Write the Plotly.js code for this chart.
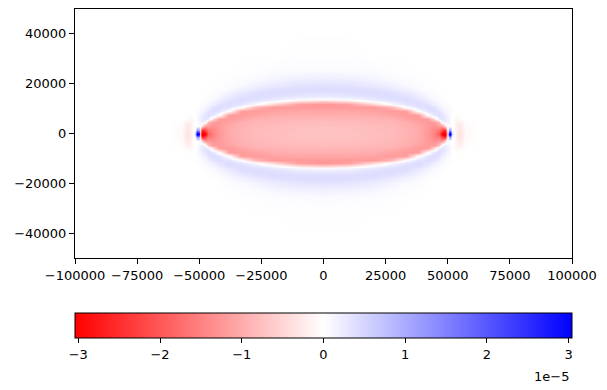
<!DOCTYPE html>
<html><head><meta charset="utf-8">
<script src="https://cdn.plot.ly/plotly-3.0.1.min.js"></script>
<style>html,body{margin:0;padding:0;background:#fff}#chart{width:607px;height:390px}</style>
</head><body><div id="chart"></div>
<script>
// Quadrant grid (x >= 0, y >= 0); field is mirrored to the other quadrants.
const xQuarter = [0, 10000, 20000, 27000, 33000, 38000, 42000, 44500, 46500, 47800, 48800, 49600, 50300, 51000, 51800, 52600, 53500, 54800, 57000, 62000, 100000];
const yQuarter = [0, 1500, 3000, 4500, 6000, 7500, 9000, 10500, 12000, 13000, 14000, 15000, 16500, 18000, 20000, 22500, 26000, 32000, 50000];
// values in units of 1e-5, one row per yQuarter entry, one column per xQuarter entry
const zQuarter = [
 [-0.72,-0.73,-0.78,-0.82,-0.90,-1.00,-1.25,-1.50,-1.90,-3.20,-3.60,-1.00, 3.00, 3.80, 0.50, 0.00,-0.20,-0.35,-0.08,0,0],
 [-0.73,-0.74,-0.79,-0.83,-0.90,-1.00,-1.22,-1.45,-1.60,-2.20,-2.50,-0.50, 1.00, 1.20, 0.05,-0.03,-0.20,-0.33,-0.08,0,0],
 [-0.76,-0.77,-0.81,-0.85,-0.92,-1.02,-1.18,-1.30,-1.20,-1.20,-0.50, 0.05, 0.05, 0.00,-0.02,-0.05,-0.18,-0.28,-0.06,0,0],
 [-0.80,-0.81,-0.85,-0.88,-0.95,-1.12,-1.20,-1.20,-0.80, 0.10, 0.20, 0.15, 0.10, 0.03, 0.00,-0.05,-0.15,-0.20,-0.04,0,0],
 [-0.86,-0.87,-0.90,-0.93,-1.08,-1.20,-1.20,-0.45, 0.26, 0.35, 0.28, 0.20, 0.14, 0.06, 0.01,-0.06,-0.10,-0.06,-0.01,0,0],
 [-0.95,-0.95,-0.98,-1.08,-1.20,-1.20,-0.02, 0.30, 0.40, 0.30, 0.22, 0.15, 0.12, 0.06, 0.02, 0.00,-0.02,-0.02,0,0,0],
 [-1.05,-1.05,-1.10,-1.20,-1.15, 0.00, 0.34, 0.42, 0.32, 0.20, 0.13, 0.09, 0.08, 0.04, 0.02,0,0,0,0,0,0],
 [-1.20,-1.20,-1.22,-0.90, 0.03, 0.33, 0.42, 0.33, 0.20, 0.11, 0.07, 0.05, 0.05, 0.02, 0.01,0,0,0,0,0,0],
 [-1.25,-1.15,-0.50, 0.09, 0.32, 0.42, 0.32, 0.20, 0.11, 0.06, 0.04, 0.03, 0.02, 0.01,0,0,0,0,0,0,0],
 [-0.60,-0.38, 0.08, 0.28, 0.40, 0.38, 0.24, 0.13, 0.07, 0.04, 0.03, 0.015,0.01,0,0,0,0,0,0,0,0],
 [ 0.05, 0.10, 0.28, 0.38, 0.41, 0.31, 0.16, 0.08, 0.04, 0.025,0.02, 0.01, 0,0,0,0,0,0,0,0,0],
 [ 0.25, 0.28, 0.37, 0.41, 0.36, 0.23, 0.10, 0.05, 0.03, 0.015,0.01, 0.005,0,0,0,0,0,0,0,0,0],
 [ 0.38, 0.39, 0.42, 0.36, 0.26, 0.14, 0.05, 0.03, 0.015,0.01, 0.005,0,0,0,0,0,0,0,0,0,0],
 [ 0.42, 0.41, 0.36, 0.27, 0.16, 0.07, 0.03, 0.015,0.005,0.005,0,0,0,0,0,0,0,0,0,0,0],
 [ 0.33, 0.31, 0.23, 0.14, 0.07, 0.035,0.015,0.005,0,0,0,0,0,0,0,0,0,0,0,0,0],
 [ 0.17, 0.15, 0.11, 0.05, 0.03, 0.015,0.005,0,0,0,0,0,0,0,0,0,0,0,0,0,0],
 [ 0.05, 0.045,0.037,0.02, 0.01, 0.005,0,0,0,0,0,0,0,0,0,0,0,0,0,0,0],
 [ 0.01, 0.01, 0.005,0.005,0,0,0,0,0,0,0,0,0,0,0,0,0,0,0,0,0],
 [0,0,0,0,0,0,0,0,0,0,0,0,0,0,0,0,0,0,0,0,0]
];
const xTickVals = [-100000,-75000,-50000,-25000,0,25000,50000,75000,100000];
const xTickText = ['\u2212100000','\u221275000','\u221250000','\u221225000','0','25000','50000','75000','100000'];
const yTickVals = [-40000,-20000,0,20000,40000];
const yTickText = ['\u221240000','\u221220000','0','20000','40000'];
const cbTickVals = [-3,-2,-1,0,1,2,3];
const cbTickText = ['\u22123','\u22122','\u22121','0','1','2','3'];
const zLimit = 3.04;
const offsetLabel = '1e\u22125';

function mirrorAxis(a){ return a.slice(1).map(v => -v).reverse().concat(a); }
function mirrorRow(r){ return r.slice(1).reverse().concat(r); }
const xFull = mirrorAxis(xQuarter);
const yFull = mirrorAxis(yQuarter);
const rowsHalf = zQuarter.map(mirrorRow);
const zFull = rowsHalf.slice(1).reverse().concat(rowsHalf);

const font = {family: 'DejaVu Sans', size: 13, color: '#000'};
const trace = {
  type: 'heatmap', x: xFull, y: yFull, z: zFull, zsmooth: 'best',
  zmin: -zLimit, zmax: zLimit,
  colorscale: [[0, 'rgb(255,0,0)'], [0.5, 'rgb(255,255,255)'], [1, 'rgb(0,0,255)']],
  colorbar: {
    orientation: 'h', x: 0.5, xanchor: 'center', y: -0.222, yanchor: 'top',
    len: 1, lenmode: 'fraction', thickness: 25, thicknessmode: 'pixels',
    xpad: 0, ypad: 0, outlinewidth: 1, outlinecolor: '#000',
    ticks: 'outside', ticklen: 5, tickwidth: 1, tickcolor: '#000',
    tickmode: 'array', tickvals: cbTickVals, ticktext: cbTickText, tickfont: font
  },
  hoverinfo: 'skip'
};
const axisBase = {showline: true, mirror: true, linecolor: '#000', linewidth: 1,
  ticks: 'outside', ticklen: 5, tickwidth: 1, tickcolor: '#000', showgrid: false, zeroline: false,
  tickfont: font, tickmode: 'array'};
const layout = {
  width: 607, height: 390, margin: {l: 75, r: 35, t: 9, b: 132},
  paper_bgcolor: '#fff', plot_bgcolor: '#fff',
  xaxis: Object.assign({}, axisBase, {range: [-100000, 100000], tickvals: xTickVals, ticktext: xTickText}),
  yaxis: Object.assign({}, axisBase, {range: [-50000, 50000], tickvals: yTickVals, ticktext: yTickText}),
  annotations: [{text: offsetLabel, xref: 'paper', yref: 'paper', x: 0.997, y: -0.475,
    xanchor: 'right', yanchor: 'middle', showarrow: false, font: font}],
  showlegend: false
};
Plotly.newPlot('chart', [trace], layout, {displayModeBar: false, staticPlot: true});
</script></body></html>
